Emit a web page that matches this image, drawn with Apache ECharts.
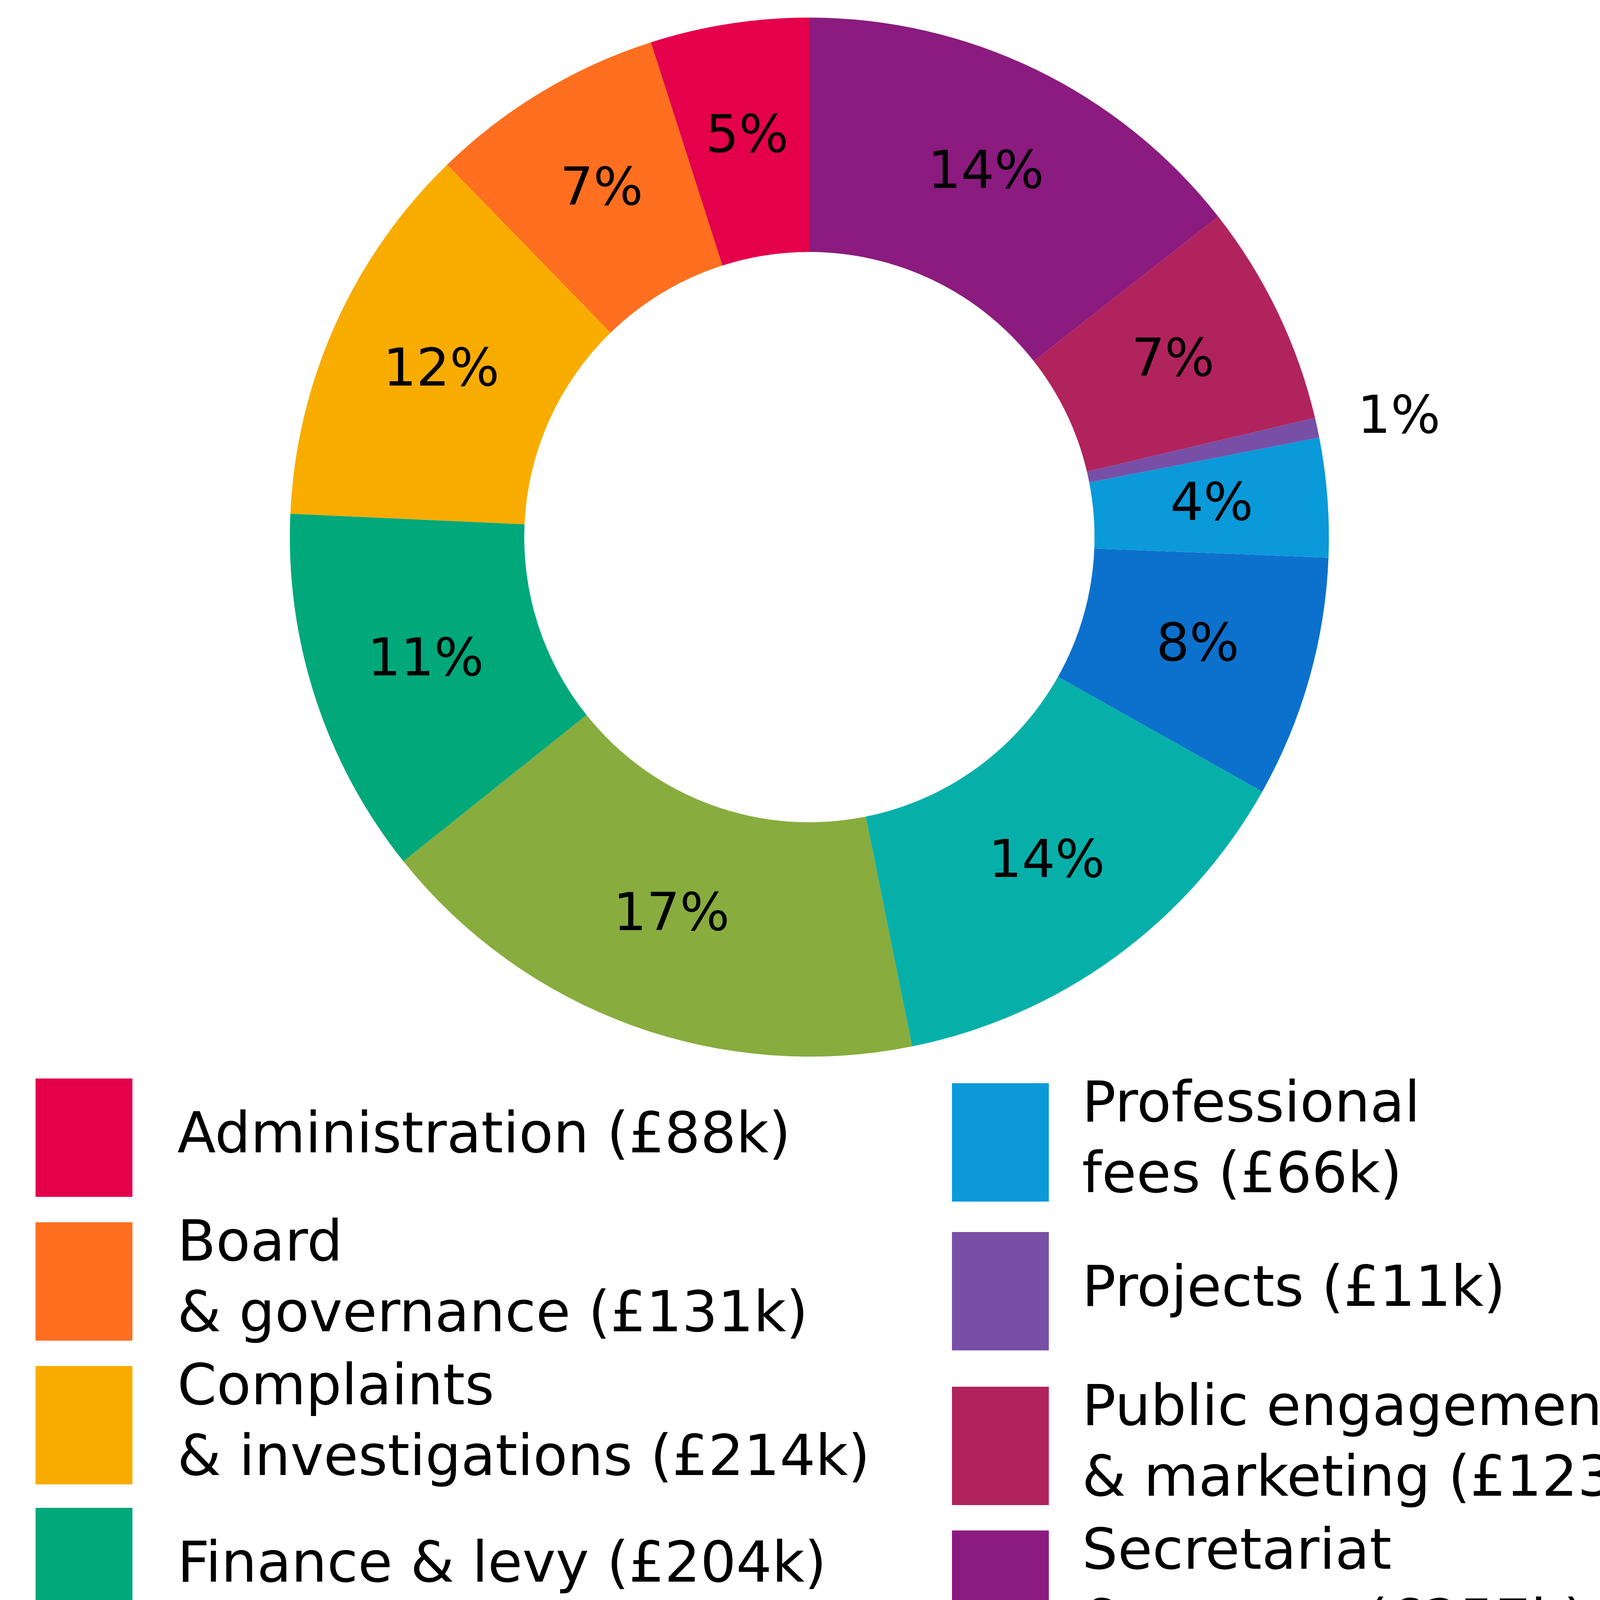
<!DOCTYPE html>
<html>
<head>
<meta charset="utf-8">
<script src="https://cdn.jsdelivr.net/npm/echarts@6/dist/echarts.min.js"></script>
<style>
  html, body { margin: 0; padding: 0; background: #fff; }
  #chart { width: 4310px; height: 5376px; }
</style>
</head>
<body>
<div id="chart"></div>
<script>
// spend by cost area, £k (legend order)
var legendText = ['Administration', 'Board\n& governance', 'Complaints\n& investigations', 'Finance & levy',
    'FPS running costs', 'Policy', 'Premesis', 'Professional\nfees', 'Projects',
    'Public engagement\n& marketing', 'Secretariat\n& comms'];
var spend = [88, 131, 214, 204, 311, 244, 134, 66, 11, 123, 257];
var colors = ['#e4004b', '#ff6f1f', '#f9ac00', '#00a87a', '#88ac3e', '#06b0a9', '#0c71cc',
    '#0a99d9', '#784fa6', '#b1235d', '#8b1b7e'];

var categories = legendText.map(function (t) { return t.replace('\n', ' '); });

// legend layout: square tops for the two columns
var leftTops = [2761, 3129, 3497, 3860, 4235, 4625, 5012];
var rightTops = [2773, 3154, 3550, 3918];
var FONT = 'DejaVu Sans';
var LINE = 181;
var SQ_W = 248, SQ_H = 303;

var legends = categories.map(function (name, i) {
    var right = i >= leftTops.length;
    var top = right ? rightTops[i - leftTops.length] : leftTops[i];
    var lines = legendText[i].split('\n').length;
    var textH = lines * LINE;
    if (textH > SQ_H) top -= (textH - SQ_H) / 2;
    return {
        data: [name],
        orient: 'vertical',
        left: right ? 2437 : 91,
        top: top,
        padding: 0,
        icon: 'rect',
        itemWidth: SQ_W,
        itemHeight: SQ_H,
        selectedMode: false,
        formatter: function () { return legendText[i] + ' (£' + spend[i] + 'k)'; },
        textStyle: {
            fontFamily: FONT,
            fontSize: 144,
            lineHeight: LINE,
            color: '#000',
            padding: [0, 0, lines > 1 ? 0 : 40, right ? 80 : 110]
        }
    };
});

var pieData = categories.map(function (name, i) {
    var d = { name: name, value: spend[i] };
    if (name === 'Projects') {
        d.label = { position: 'outside' };
        d.labelLine = { show: false, length: 100, length2: 0 };
    }
    return d;
});

var chart = echarts.init(document.getElementById('chart'), null, { renderer: 'canvas' });
chart.setOption({
    backgroundColor: '#fff',
    animation: false,
    color: colors,
    legend: legends,
    series: [{
        type: 'pie',
        center: [2072, 1375],
        radius: [730, 1330],
        startAngle: 90,
        clockwise: false,
        avoidLabelOverlap: false,
        itemStyle: { borderWidth: 0 },
        label: {
            show: true,
            position: 'inside',
            fontFamily: FONT,
            fontSize: 134,
            color: '#000',
            formatter: function (p) { return Math.round(p.percent) + '%'; }
        },
        labelLine: { show: false },
        emphasis: { disabled: true },
        data: pieData
    }]
});
</script>
</body>
</html>
